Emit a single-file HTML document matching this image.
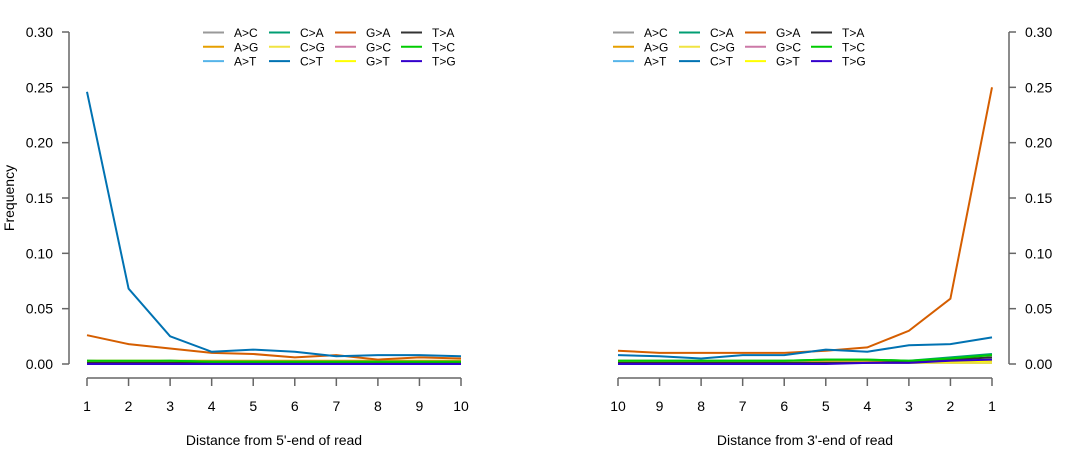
<!DOCTYPE html>
<html><head><meta charset="utf-8"><style>
body{margin:0;background:#fff}
svg{font-family:"Liberation Sans",sans-serif}
</style></head><body>
<svg id="c" width="1080" height="450" xmlns="http://www.w3.org/2000/svg"></svg>
<script>
const subs=["A>C","A>G","A>T","C>A","C>G","C>T","G>A","G>C","G>T","T>A","T>C","T>G"];
const colors=["#999999","#E69F00","#56B4E9","#009E73","#F0E442","#0072B2","#D55E00","#CC79A7","#FFFF00","#333333","#00CC00","#3300CC"];
const positions=[1,2,3,4,5,6,7,8,9,10];
const yTicks=[0,0.05,0.10,0.15,0.20,0.25,0.30];
const yTickLabels=["0.00","0.05","0.10","0.15","0.20","0.25","0.30"];
const left5={
"A>C":[0.001,0.001,0.001,0.001,0.001,0.001,0.001,0.001,0.001,0.001],
"A>G":[0.003,0.003,0.003,0.003,0.003,0.003,0.003,0.003,0.003,0.003],
"A>T":[0.001,0.001,0.001,0.001,0.001,0.001,0.001,0.001,0.001,0.001],
"C>A":[0.003,0.002,0.003,0.002,0.002,0.002,0.002,0.002,0.002,0.002],
"C>G":[0.001,0.001,0.001,0.001,0.001,0.001,0.001,0.001,0.001,0.001],
"C>T":[0.246,0.068,0.025,0.011,0.013,0.011,0.007,0.008,0.008,0.007],
"G>A":[0.026,0.018,0.014,0.010,0.009,0.006,0.008,0.004,0.006,0.005],
"G>C":[0.001,0.001,0.001,0.001,0.001,0.001,0.001,0.001,0.001,0.001],
"G>T":[0.001,0.001,0.001,0.001,0.001,0.001,0.001,0.001,0.001,0.001],
"T>A":[0.001,0.001,0.001,0.001,0.001,0.001,0.001,0.001,0.001,0.001],
"T>C":[0.003,0.003,0.003,0.002,0.002,0.002,0.002,0.002,0.002,0.002],
"T>G":[0.000,0.000,0.000,0.000,0.000,0.000,0.000,0.000,0.000,0.000]};
// values indexed by position 1..10 from the 3' end
const right3={
"A>C":[0.002,0.002,0.001,0.001,0.001,0.001,0.001,0.001,0.001,0.001],
"A>G":[0.001,0.001,0.002,0.003,0.003,0.003,0.003,0.003,0.003,0.003],
"A>T":[0.001,0.001,0.001,0.001,0.001,0.001,0.001,0.001,0.001,0.001],
"C>A":[0.009,0.006,0.003,0.004,0.004,0.003,0.003,0.003,0.003,0.003],
"C>G":[0.001,0.001,0.001,0.001,0.001,0.001,0.001,0.001,0.001,0.001],
"C>T":[0.024,0.018,0.017,0.011,0.013,0.008,0.008,0.005,0.007,0.008],
"G>A":[0.250,0.059,0.030,0.015,0.012,0.010,0.010,0.010,0.010,0.012],
"G>C":[0.003,0.002,0.001,0.001,0.001,0.001,0.001,0.001,0.001,0.001],
"G>T":[0.003,0.002,0.001,0.001,0.001,0.001,0.001,0.001,0.001,0.001],
"T>A":[0.006,0.004,0.002,0.001,0.001,0.001,0.001,0.001,0.001,0.001],
"T>C":[0.008,0.005,0.003,0.004,0.004,0.003,0.003,0.003,0.003,0.003],
"T>G":[0.004,0.003,0.001,0.001,0.000,0.000,0.000,0.000,0.000,0.000]};
const svg=document.getElementById('c');
const NS="http://www.w3.org/2000/svg";
function el(t,a,p){const e=document.createElementNS(NS,t);for(const k in a)e.setAttribute(k,a[k]);(p||svg).appendChild(e);return e;}
const y=v=>364-v/0.3*332;
function panel(side){
  const g=el('g',{});
  
  
  const xs=side==='L'?(p=>87+(p-1)*41.556):(p=>992-(p-1)*41.556);
  const ax=side==='L'?69:1009, td=side==='L'?-7:7;
  const ya=el('g',{stroke:'#666','stroke-width':1.5},g);
  
  el('line',{x1:ax,x2:ax,y1:y(0),y2:y(0.3)},ya);
  yTicks.forEach((v,i)=>{
    el('line',{x1:ax,x2:ax+td,y1:y(v),y2:y(v)},ya);
    const t=el('text',{x:side==='L'?53:1025,y:y(v)+5,'font-size':14,'text-anchor':side==='L'?'end':'start',fill:'#000',stroke:'none'},g);
    t.textContent=yTickLabels[i];
    
  });
  const xa=el('g',{stroke:'#666','stroke-width':1.5},g);
  
  el('line',{x1:xs(1),x2:xs(10),y1:378,y2:378},xa);
  positions.forEach(p=>{
    el('line',{x1:xs(p),x2:xs(p),y1:378,y2:386},xa);
    const t=el('text',{x:xs(p),y:411,'font-size':14,'text-anchor':'middle',fill:'#000'},g);
    t.textContent=p;
    
  });
  const xt=el('text',{x:side==='L'?274:805,y:445,'font-size':14,'text-anchor':'middle'},g);
  xt.textContent=side==='L'?"Distance from 5'-end of read":"Distance from 3'-end of read";
  
  const data=side==='L'?left5:right3;
  const order=[0,1,2,3,4,7,8,9,10,11,6,5];
  order.forEach(i=>{
    const s=subs[i];
    const pts=positions.map((p,j)=>xs(p).toFixed(1)+','+y(data[s][j]).toFixed(1)).join(' ');
    const l=el('polyline',{points:pts,fill:'none',stroke:colors[i],'stroke-width':2},g);
    
    
  });
  const lg=el('g',{},g);
  
  const lx=side==='L'?203:613;
  subs.forEach((s,i)=>{
    const c=Math.floor(i/3),r=i%3;
    const x0=lx+c*66, y0=32.5+r*14.3;
    const it=el('g',{},lg);
    
    el('line',{x1:x0,x2:x0+21,y1:y0,y2:y0,stroke:colors[i],'stroke-width':2},it);
    const t=el('text',{x:x0+31,y:y0+4.5,'font-size':12},it);
    t.textContent=s;
  });
}
panel('L');panel('R');
const yt=el('text',{x:14,y:198,'font-size':14,'text-anchor':'middle',transform:'rotate(-90 14 198)'});
yt.textContent='Frequency';


</script>
</body></html>
